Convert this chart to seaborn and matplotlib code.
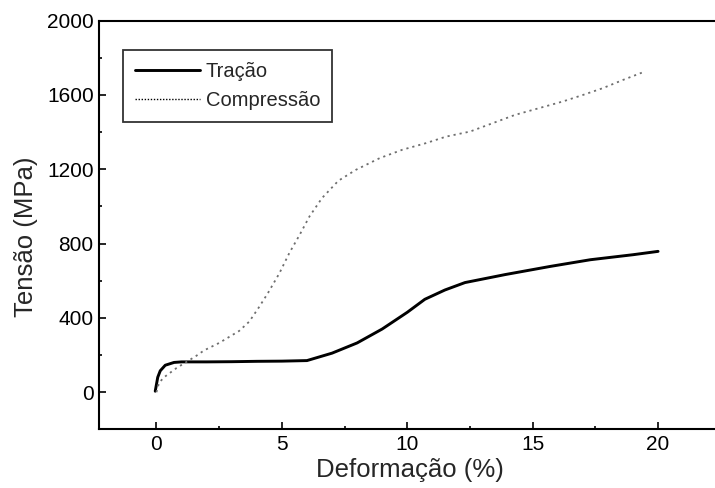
import numpy as np
import pandas as pd
import matplotlib
matplotlib.use("Agg")
import matplotlib.pyplot as plt
from matplotlib.ticker import MultipleLocator
import seaborn as sns

# ---- data ----
tracao_x = [-0.05, 0.05, 0.15, 0.35, 0.7, 1.0, 2.0, 3.0, 4.0, 5.0, 6.0, 6.5, 7.0,
            8.0, 9.0, 10.0, 10.7, 11.5, 12.3, 13.9, 15.7, 17.3, 19.0, 20.0]
tracao_y = [5, 80, 115, 145, 160, 163, 163, 164, 166, 167, 170, 190, 210,
            265, 340, 430, 500, 550, 590, 633, 677, 713, 740, 758]

compressao_x = [0.0, 0.1, 0.3, 0.5, 0.8, 1.04, 1.57, 1.9, 2.5, 3.3, 3.7, 4.1, 4.45,
                4.9, 5.3, 5.7, 6.1, 6.6, 7.25, 7.95, 8.9, 9.8, 10.75, 11.55, 12.5,
                13.4, 14.3, 15.25, 16.2, 17.0, 17.8, 18.6, 19.35]
compressao_y = [0, 50, 80, 100, 130, 150, 194, 225, 265, 330, 380, 460, 535,
                640, 750, 845, 946, 1045, 1138, 1197, 1260, 1305, 1341, 1376, 1403,
                1448, 1493, 1529, 1565, 1600, 1637, 1681, 1720]

series_names = ["Tração", "Compressão"]
x_label = "Deformação (%)"
y_label = "Tensão (MPa)"

sns.set_style("ticks")
plt.rcParams["font.family"] = ["Liberation Sans", "DejaVu Sans"]

fig = plt.figure(figsize=(7.15, 4.88), dpi=100)
W, H = 715, 488
left_px, top_px, bottom_px = 99.3, 20.7, 429.3
xmin, xmax = -2.28, 22.5
px_per_x = 25.08
width_px = (xmax - xmin) * px_per_x
height_px = bottom_px - top_px
ax = fig.add_axes([left_px / W, 1 - bottom_px / H, width_px / W, height_px / H])

df_t = pd.DataFrame({"x": tracao_x, "y": tracao_y})
df_c = pd.DataFrame({"x": compressao_x, "y": compressao_y})

sns.lineplot(data=df_t, x="x", y="y", ax=ax, sort=False, color="black",
             linewidth=2.1, label=series_names[0])
sns.lineplot(data=df_c, x="x", y="y", ax=ax, sort=False, color="#6e6e6e",
             linewidth=1.3, linestyle=(0, (1.2, 2.2)), label=series_names[1])

ax.set_xlim(xmin, xmax)
ax.set_ylim(-200, 2000)
ax.xaxis.set_major_locator(MultipleLocator(5))
ax.xaxis.set_minor_locator(MultipleLocator(2.5))
ax.yaxis.set_major_locator(MultipleLocator(400))
ax.yaxis.set_minor_locator(MultipleLocator(200))
ax.tick_params(which="both", direction="in", top=False, right=False, width=1.2,
               labelsize=15, colors="black", pad=4)
ax.tick_params(which="major", length=5)
ax.tick_params(which="minor", length=2.5)

for s in ["left", "bottom", "top"]:
    ax.spines[s].set_linewidth(1.5)
    ax.spines[s].set_color("black")
ax.spines["right"].set_visible(False)

ax.set_xlabel(x_label, fontsize=18.5, labelpad=3)
ax.set_ylabel(y_label, fontsize=18.5)
ax.yaxis.set_label_coords((38 - left_px) / width_px, (bottom_px - 237) / height_px)

leg = ax.legend(loc="upper left", bbox_to_anchor=(123 / W, 1 - 50 / H),
                bbox_transform=fig.transFigure, frameon=True, fancybox=False,
                edgecolor="black", fontsize=14.5, handlelength=3.2,
                handletextpad=0.3, borderpad=0.6, labelspacing=0.5,
                borderaxespad=0)
leg.get_frame().set_linewidth(1.3)
leg.get_lines()[1].set_color("black")
leg.get_lines()[1].set_linewidth(1.0)
leg.get_lines()[1].set_linestyle((0, (1, 1.2)))

fig.savefig("out.png", dpi=100, facecolor="white")
